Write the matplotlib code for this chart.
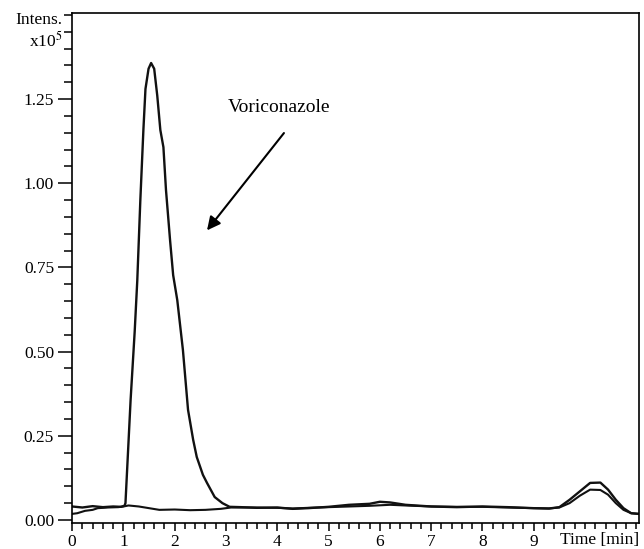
import numpy as np
import matplotlib
matplotlib.use("Agg")
import matplotlib.pyplot as plt
from matplotlib.ticker import MultipleLocator, FormatStrFormatter

# sample trace (voriconazole), time in min, intensity in units of 1e5
time_a = [0.0, 0.2, 0.4, 0.6, 0.8, 0.95, 1.02, 1.04, 1.14, 1.22, 1.27, 1.33,
          1.39, 1.43, 1.49, 1.54, 1.60, 1.66, 1.72, 1.78, 1.83, 1.91, 1.97,
          2.05, 2.16, 2.26, 2.36, 2.43, 2.55, 2.63, 2.78, 2.93, 3.07, 3.3,
          3.6, 4.0, 4.3, 4.6, 5.0, 5.4, 5.8, 6.0, 6.2, 6.5, 7.0, 7.5, 8.0,
          8.5, 9.0, 9.3, 9.5, 9.7, 9.9, 10.1, 10.3, 10.45, 10.6, 10.75,
          10.9, 11.05]
intens_a = [0.040, 0.037, 0.041, 0.038, 0.040, 0.039, 0.042, 0.050, 0.356,
            0.560, 0.710, 0.950, 1.160, 1.280, 1.340, 1.357, 1.340, 1.260,
            1.158, 1.107, 0.980, 0.830, 0.727, 0.653, 0.505, 0.327, 0.238,
            0.187, 0.134, 0.110, 0.068, 0.050, 0.039, 0.038, 0.036, 0.037,
            0.033, 0.035, 0.039, 0.045, 0.048, 0.054, 0.052, 0.045, 0.040,
            0.038, 0.040, 0.038, 0.035, 0.034, 0.038, 0.060, 0.085, 0.110,
            0.111, 0.090, 0.060, 0.035, 0.020, 0.018]

# blank trace
time_b = [0.0, 0.1, 0.25, 0.4, 0.5, 0.7, 0.9, 1.0, 1.1, 1.3, 1.5, 1.7,
          2.0, 2.3, 2.6, 2.9, 3.1, 3.5, 4.0, 4.3, 4.6, 5.0, 5.4, 5.8, 6.2,
          6.5, 7.0, 7.5, 8.0, 8.5, 9.0, 9.3, 9.5, 9.7, 9.9, 10.1, 10.3,
          10.45, 10.6, 10.75, 10.9, 11.05]
intens_b = [0.018, 0.020, 0.027, 0.030, 0.035, 0.037, 0.038, 0.040, 0.043,
            0.040, 0.035, 0.030, 0.031, 0.029, 0.030, 0.033, 0.037, 0.037,
            0.036, 0.034, 0.036, 0.038, 0.040, 0.042, 0.045, 0.043, 0.040,
            0.039, 0.039, 0.037, 0.035, 0.034, 0.037, 0.050, 0.072, 0.090,
            0.089, 0.075, 0.050, 0.030, 0.020, 0.018]

x_ticks = [0, 1, 2, 3, 4, 5, 6, 7, 8, 9]
y_ticks = [0.00, 0.25, 0.50, 0.75, 1.00, 1.25]

plt.rcParams["font.family"] = ["Liberation Serif", "DejaVu Serif"]
plt.rcParams["mathtext.fontset"] = "stix"

fig = plt.figure(figsize=(6.44, 5.49), dpi=100)
ax = fig.add_axes([0.112, 0.048, 0.880, 0.928])

ax.plot(time_b, intens_b, color="#111111", lw=1.5)
ax.plot(time_a, intens_a, color="#111111", lw=1.7)

ax.set_xlim(0, 11.05)
ax.set_ylim(-0.008, 1.505)

ax.set_xticks(x_ticks)
ax.xaxis.set_minor_locator(MultipleLocator(0.2))
ax.set_yticks(y_ticks)
ax.yaxis.set_minor_locator(MultipleLocator(0.05))
ax.yaxis.set_major_formatter(FormatStrFormatter("%.2f"))

ax.tick_params(axis="y", which="major", direction="out", length=10, width=1.1,
               pad=3, labelsize=12.5)
ax.tick_params(axis="y", which="minor", direction="out", length=6, width=1.1)
ax.tick_params(axis="x", which="major", direction="out", length=5.5, width=1.1,
               pad=2.5, labelsize=12.5)
ax.tick_params(axis="x", which="minor", direction="out", length=4, width=1.1)
for s in ax.spines.values():
    s.set_linewidth(1.2)

ax.text(10.28, -0.036, "Time [min]", ha="center", va="top", fontsize=12.5)
fig.text(0.097, 0.963, "Intens.", ha="right", va="center", fontsize=12.5)
fig.text(0.097, 0.926, r"x10$^{5}$", ha="right", va="center", fontsize=12.5)

ax.text(4.03, 1.226, "Voriconazole", ha="center", va="center", fontsize=14)
ax.annotate("", xy=(2.63, 0.86), xytext=(4.13, 1.149),
            arrowprops=dict(arrowstyle="-|>", color="black", lw=1.5,
                            mutation_scale=20, shrinkA=0, shrinkB=0))

fig.savefig("out.png", dpi=100)
